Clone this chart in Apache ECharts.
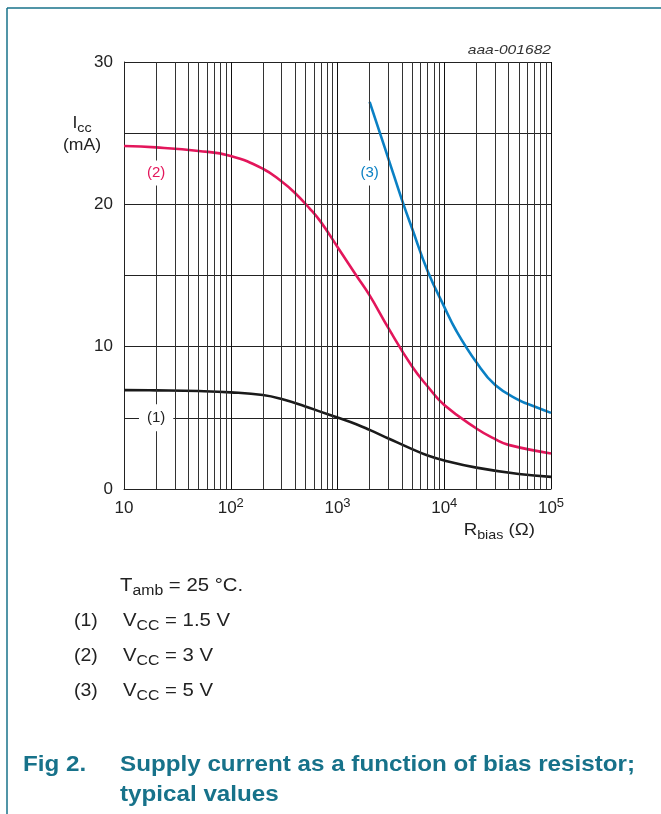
<!DOCTYPE html>
<html><head><meta charset="utf-8">
<script src="https://cdn.jsdelivr.net/npm/echarts@6/dist/echarts.min.js"></script>
<style>html,body{margin:0;padding:0;background:#fff}#c{width:661px;height:814px}</style>
</head><body><div id="c"></div>
<script>
// ---- data ----
const rbias1 = [10, 20, 50, 100, 200, 300, 500, 700, 1000, 1500, 2000, 3000, 5000, 7000, 10000, 20000, 50000, 100000];
const icc1   = [6.95, 6.93, 6.88, 6.79, 6.6, 6.32, 5.8, 5.42, 5.02, 4.55, 4.15, 3.55, 2.8, 2.35, 2.0, 1.5, 1.05, 0.85];
const rbias2 = [10, 20, 50, 100, 200, 300, 400, 550, 700, 1000, 1500, 2000, 3000, 5000, 7000, 10000, 20000, 30000, 40000, 100000];
const icc2   = [24.1, 24.0, 23.75, 23.4, 22.5, 21.6, 20.8, 19.7, 18.75, 17.0, 15.0, 13.6, 11.3, 8.6, 7.2, 5.9, 4.25, 3.5, 3.1, 2.5];
const rbias3 = [2000, 3000, 4000, 5000, 7000, 10000, 13000, 20000, 30000, 50000, 70000, 100000];
const icc3   = [27.2, 23.2, 20.35, 18.3, 15.3, 12.8, 11.1, 8.9, 7.3, 6.25, 5.8, 5.35];
const curveLabels = ['(1)', '(2)', '(3)'];
const labelAnchors = [[20, 5.0], [20, 22.2], [2000, 22.2]];
const vccValues = ['1.5', '3', '5'];
const yTickLabels = [0, 10, 20, 30];
const xDecades = [10, 100, 1000, 10000, 100000];
const minorMultipliers = [2, 3, 4, 5, 6, 7, 8, 9];

const FONT = 'Liberation Sans, Arial, Helvetica, sans-serif';
const colors = ['#1a1a1a', '#e3165b', '#0a80c4'];
const teal = '#17728a';

const minorGrid = [];
xDecades.slice(0, -1).forEach(d => minorMultipliers.forEach(m => minorGrid.push(m * d)));

function zip(xs, ys) { return xs.map((x, i) => [x, ys[i]]); }
const seriesData = [zip(rbias1, icc1), zip(rbias2, icc2), zip(rbias3, icc3)];

const chart = echarts.init(document.getElementById('c'), null, {renderer: 'canvas'});

const series = [{
  type: 'line', data: [], silent: true, animation: false,
  markLine: {
    silent: true, animation: false, symbol: ['none', 'none'],
    label: {show: false},
    lineStyle: {color: '#333', width: 1, type: 'solid'},
    emphasis: {disabled: true},
    data: minorGrid.map(v => ({xAxis: v}))
  }
}];
seriesData.forEach((d, i) => {
  series.push({
    type: 'line', data: d, showSymbol: false, smooth: 0.45,
    animation: false, silent: true,
    lineStyle: {color: colors[i], width: 2.6}, itemStyle: {color: colors[i]},
    markPoint: {
      silent: true, animation: false, symbol: 'rect', symbolSize: 1,
      itemStyle: {color: 'rgba(0,0,0,0)'},
      label: {show: true, position: 'inside', formatter: curveLabels[i], color: i === 0 ? '#222' : colors[i],
        fontFamily: FONT, fontSize: 15, backgroundColor: '#fff', padding: i === 0 ? [6, 8] : [5, 4]},
      data: [{coord: labelAnchors[i]}]
    }
  });
});

function txt(x, y, text, opts) {
  return Object.assign({
    type: 'text', x: x, y: y, silent: true,
    style: Object.assign({text: text, fill: '#222', fontFamily: FONT, fontSize: 17,
      textAlign: 'left', align: 'left', textVerticalAlign: 'middle', verticalAlign: 'middle'}, opts.style || {})
  }, opts.el || {});
}
function subRich(main, sub) {
  return {
    m: {fontFamily: FONT, fontSize: main, lineHeight: Math.round(main * 1.4), fill: '#222', color: '#222'},
    s: {fontFamily: FONT, fontSize: sub, lineHeight: Math.round(sub * 0.9), fill: '#222', color: '#222', verticalAlign: 'bottom'}
  };
}

const graphics = [
  {type: 'line', silent: true, shape: {x1: 7, y1: 8, x2: 661, y2: 8}, style: {stroke: teal, lineWidth: 1.5}},
  {type: 'line', silent: true, shape: {x1: 7, y1: 8, x2: 7, y2: 814}, style: {stroke: teal, lineWidth: 1.5}},
  txt(551, 50, 'aaa-001682', {style: {fontStyle: 'italic', fontSize: 13, textAlign: 'right', align: 'right', fill: '#333'}, el: {scaleX: 1.2}}),
  txt(82, 124, '{m|I}{s|cc}', {style: {textAlign: 'center', align: 'center', rich: subRich(16, 13)}, el: {scaleX: 1.1}}),
  txt(82, 146, '(mA)', {style: {fontSize: 16, textAlign: 'center', align: 'center'}, el: {scaleX: 1.1}}),
  txt(535, 530, '{m|R}{s|bias}{m| (Ω)}', {style: {textAlign: 'right', align: 'right', rich: subRich(17, 13)}, el: {scaleX: 1.1}}),
  txt(120, 586, '{m|T}{s|amb}{m| = 25 °C.}', {style: {rich: subRich(18, 14)}, el: {scaleX: 1.13}})
];
curveLabels.forEach((lab, i) => {
  const y = 621 + i * 35;
  graphics.push(txt(74, y, lab, {style: {fontSize: 18}, el: {scaleX: 1.08}}));
  graphics.push(txt(123, y, '{m|V}{s|CC}{m| = ' + vccValues[i] + ' V}', {style: {rich: subRich(18, 14)}, el: {scaleX: 1.13}}));
});
graphics.push(txt(23, 765, 'Fig 2.', {style: {fontSize: 22, fontWeight: 'bold', fill: teal}, el: {scaleX: 1.1}}));
graphics.push(txt(120, 765, 'Supply current as a function of bias resistor;', {style: {fontSize: 22, fontWeight: 'bold', fill: teal}, el: {scaleX: 1.1}}));
graphics.push(txt(120, 795, 'typical values', {style: {fontSize: 22, fontWeight: 'bold', fill: teal}, el: {scaleX: 1.1}}));

chart.setOption({
  backgroundColor: '#fff',
  animation: false,
  grid: {left: 124, top: 62, width: 427, height: 427, containLabel: false},
  xAxis: {
    type: 'log', logBase: 10, min: 10, max: 100000, splitNumber: 4,
    axisLine: {show: true, lineStyle: {color: '#222', width: 1}},
    axisTick: {show: false},
    splitLine: {show: true, lineStyle: {color: '#111', width: 1}},
    axisLabel: {
      margin: 8, color: '#222',
      formatter: v => {
        const e = Math.round(Math.log10(v));
        return e === 1 ? '{b|10}' : '{b|10}{s|' + e + '}';
      },
      rich: {
        b: {fontFamily: FONT, fontSize: 17, lineHeight: 22, color: '#222'},
        s: {fontFamily: FONT, fontSize: 13, lineHeight: 13, color: '#222', verticalAlign: 'top'}
      }
    }
  },
  yAxis: {
    type: 'value', min: 0, max: 30, interval: 5,
    axisLine: {show: true, lineStyle: {color: '#222', width: 1}},
    axisTick: {show: false},
    splitLine: {show: true, lineStyle: {color: '#222', width: 1}},
    axisLabel: {
      margin: 11, color: '#222', fontFamily: FONT, fontSize: 17,
      formatter: v => yTickLabels.indexOf(v) >= 0 ? String(v) : ''
    }
  },
  graphic: graphics,
  series: series
});
</script></body></html>
